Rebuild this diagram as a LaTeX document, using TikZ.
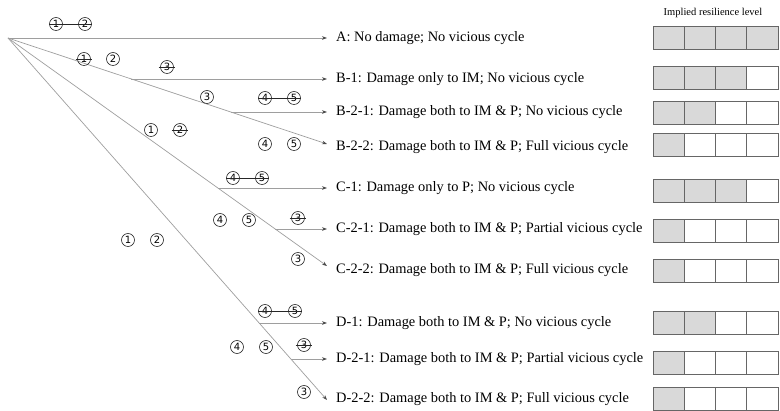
\documentclass[tikz,border=0pt]{standalone}
\usepackage{fontspec}
\setmainfont{Liberation Serif}
\newfontfamily\numfont{DejaVu Sans}
\usetikzlibrary{arrows.meta,calc}
\definecolor{cellgray}{HTML}{D9D9D9}
\begin{document}
\begin{tikzpicture}[x=1pt,y=-1pt,
  branch/.style={draw=black!38, line width=0.7pt},
  arrowline/.style={branch, -{Stealth[length=5pt,width=3.6pt,color=black!70]}},
  outcome/.style={anchor=west, inner xsep=9pt, inner ysep=0pt, font=\fontsize{14.4}{16}\selectfont},
  cnum/.style={circle, draw=black!85, line width=0.6pt, inner sep=0pt, minimum size=13pt, font=\numfont\fontsize{10}{10}\selectfont},
  strike/.style={draw=black!85, line width=0.6pt},
  cell/.style={draw=black!60, line width=0.8pt},
  heading/.style={font=\fontsize{10.5}{12}\selectfont},
]
\useasboundingbox (0,0) rectangle (780,411);

% root of the tree and the ends / branch points of the three diagonals
\coordinate (O) at (8,38);
\coordinate (eB) at (327,144);
\coordinate (eC) at (327,266);
\coordinate (eD) at (327,400);
\coordinate (b1) at (131.4,79);
\coordinate (b21) at (230.7,112);
\coordinate (c1) at (217.9,188);
\coordinate (c21) at (275.2,229);
\coordinate (d1) at (259.1,323);
\coordinate (d21) at (290.9,359);

% outcome labels
\node[outcome] (tA)   at (327,38)  {A: No damage; No vicious cycle};
\node[outcome] (tB1)  at (327,79)  {B-1: Damage only to IM; No vicious cycle};
\node[outcome] (tB21) at (327,112) {B-2-1: Damage both to IM \& P; No vicious cycle};
\node[outcome] (tB22) at (327,147) {B-2-2: Damage both to IM \& P; Full vicious cycle};
\node[outcome] (tC1)  at (327,188) {C-1: Damage only to P; No vicious cycle};
\node[outcome] (tC21) at (327,229) {C-2-1: Damage both to IM \& P; Partial vicious cycle};
\node[outcome] (tC22) at (327,270) {C-2-2: Damage both to IM \& P; Full vicious cycle};
\node[outcome] (tD1)  at (327,323) {D-1: Damage both to IM \& P; No vicious cycle};
\node[outcome] (tD21) at (327,359) {D-2-1: Damage both to IM \& P; Partial vicious cycle};
\node[outcome] (tD22) at (327,399) {D-2-2: Damage both to IM \& P; Full vicious cycle};

% tree branches
\draw[arrowline] (O) -- (tA.west);
\draw[arrowline] (O) -- (eB);
\draw[arrowline] (O) -- (eC);
\draw[arrowline] (O) -- (eD);
\draw[arrowline] (b1) -- (b1 -| tB1.west);
\draw[arrowline] (b21) -- (b21 -| tB21.west);
\draw[arrowline] (c1) -- (c1 -| tC1.west);
\draw[arrowline] (c21) -- (c21 -| tC21.west);
\draw[arrowline] (d1) -- (d1 -| tD1.west);
\draw[arrowline] (d21) -- (d21 -| tD21.west);

% circled conditions (struck through where they do not hold)
\node[cnum] (a1) at (56,24) {1};
\node[cnum] (a2) at (85,24) {2};
\draw[strike] (a1.west) -- (a2.east);

\node[cnum] (bb1) at (84,59) {1};
\node[cnum] (bb2) at (113,59) {2};
\draw[strike] ([xshift=-1.5pt]bb1.west) -- ([xshift=1.5pt]bb1.east);
\node[cnum] (bx3) at (167,67) {3};
\draw[strike] ([xshift=-1.5pt]bx3.west) -- ([xshift=1.5pt]bx3.east);
\node[cnum] (by3) at (207,97) {3};
\node[cnum] (bx4) at (265,98) {4};
\node[cnum] (bx5) at (294,98) {5};
\draw[strike] (bx4.west) -- (bx5.east);
\node[cnum] (by4) at (265,144) {4};
\node[cnum] (by5) at (294,144) {5};

\node[cnum] (cc1) at (151,130) {1};
\node[cnum] (cc2) at (180,130) {2};
\draw[strike] ([xshift=-1.5pt]cc2.west) -- ([xshift=1.5pt]cc2.east);
\node[cnum] (cx4) at (233,178) {4};
\node[cnum] (cx5) at (262,178) {5};
\draw[strike] (cx4.west) -- (cx5.east);
\node[cnum] (cy4) at (220,220) {4};
\node[cnum] (cy5) at (249,220) {5};
\node[cnum] (cx3) at (298,218) {3};
\draw[strike] ([xshift=-1.5pt]cx3.west) -- ([xshift=1.5pt]cx3.east);
\node[cnum] (cy3) at (298,259) {3};

\node[cnum] (dd1) at (128,240) {1};
\node[cnum] (dd2) at (157,240) {2};
\node[cnum] (dx4) at (265,311) {4};
\node[cnum] (dx5) at (295,311) {5};
\draw[strike] (dx4.west) -- (dx5.east);
\node[cnum] (dy4) at (237,347) {4};
\node[cnum] (dy5) at (266,347) {5};
\node[cnum] (dx3) at (304,345) {3};
\draw[strike] ([xshift=-1.5pt]dx3.west) -- ([xshift=1.5pt]dx3.east);
\node[cnum] (dy3) at (304,392) {3};

% resilience level bars
\node[heading] (head) at (713,13) {Implied resilience level};
\foreach \yc/\k in {38/4, 77.5/3, 113/2, 145/1, 190.5/3, 230.5/1, 271/1, 322.5/2, 362.5/1, 398.5/1}{
  \fill[cellgray] (653,\yc-11.5) rectangle ({653+31.25*\k},\yc+11.5);
  \foreach \i in {0,...,3}
    \draw[cell] ({653+31.25*\i},\yc-11.5) rectangle ++(31.25,23);
}
\end{tikzpicture}
\end{document}
